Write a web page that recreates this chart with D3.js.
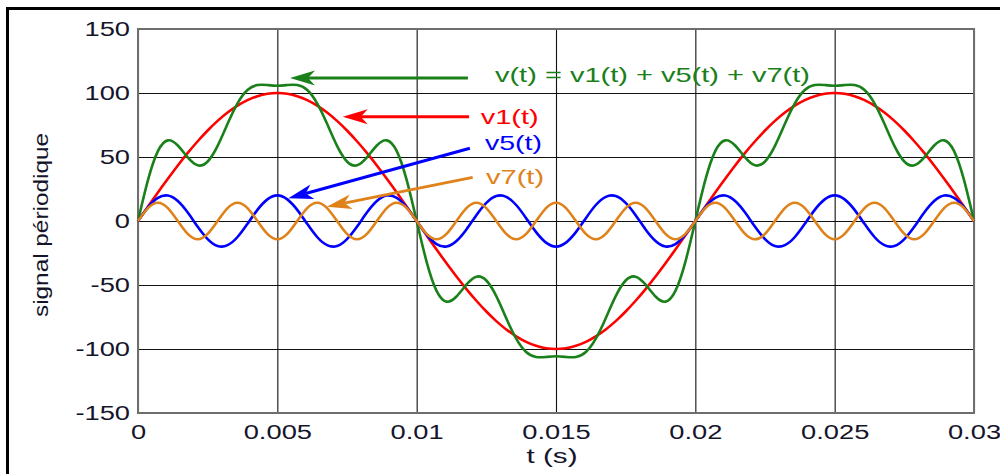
<!DOCTYPE html>
<html>
<head>
<meta charset="utf-8">
<script src="https://cdn.jsdelivr.net/npm/d3@7"></script>
<style>
  html, body { margin: 0; padding: 0; background: #fff; overflow: hidden; }
  svg { display: block; font-family: "Liberation Sans", Arial, sans-serif; }
</style>
</head>
<body>
<svg id="chart" width="1000" height="474"></svg>
<script>
// Samples taken every 0.03/84 s from t = 0 to t = 0.03 s (85 samples)
const tEnd = 0.03;
const sampleCount = 85;

// fundamental, 50 Hz
const v1 = [
  0, 11.2, 22.3, 33.0, 43.4, 53.2, 62.3, 70.7, 78.2, 84.7, 90.1, 94.4, 97.5, 99.4,
  100, 99.4, 97.5, 94.4, 90.1, 84.7, 78.2, 70.7, 62.3, 53.2, 43.4, 33.0, 22.3, 11.2, 0,
  -11.2, -22.3, -33.0, -43.4, -53.2, -62.3, -70.7, -78.2, -84.7, -90.1, -94.4, -97.5, -99.4,
  -100, -99.4, -97.5, -94.4, -90.1, -84.7, -78.2, -70.7, -62.3, -53.2, -43.4, -33.0, -22.3, -11.2, 0,
  11.2, 22.3, 33.0, 43.4, 53.2, 62.3, 70.7, 78.2, 84.7, 90.1, 94.4, 97.5, 99.4,
  100, 99.4, 97.5, 94.4, 90.1, 84.7, 78.2, 70.7, 62.3, 53.2, 43.4, 33.0, 22.3, 11.2, 0
];

// 5th harmonic, 250 Hz
const v5 = [
  0, 10.6, 18.0, 19.9, 15.6, 6.6, -4.5, -14.1, -19.5, -18.9, -12.5, -2.2, 8.7, 16.9,
  20, 16.9, 8.7, -2.2, -12.5, -18.9, -19.5, -14.1, -4.5, 6.6, 15.6, 19.9, 18.0, 10.6, 0,
  -10.6, -18.0, -19.9, -15.6, -6.6, 4.5, 14.1, 19.5, 18.9, 12.5, 2.2, -8.7, -16.9,
  -20, -16.9, -8.7, 2.2, 12.5, 18.9, 19.5, 14.1, 4.5, -6.6, -15.6, -19.9, -18.0, -10.6, 0,
  10.6, 18.0, 19.9, 15.6, 6.6, -4.5, -14.1, -19.5, -18.9, -12.5, -2.2, 8.7, 16.9,
  20, 16.9, 8.7, -2.2, -12.5, -18.9, -19.5, -14.1, -4.5, 6.6, 15.6, 19.9, 18.0, 10.6, 0
];

// 7th harmonic, 350 Hz
const v7 = [
  0, 10.1, 14.3, 10.1, 0, -10.1, -14.3, -10.1,
  0, 10.1, 14.3, 10.1, 0, -10.1, -14.3, -10.1,
  0, 10.1, 14.3, 10.1, 0, -10.1, -14.3, -10.1,
  0, 10.1, 14.3, 10.1, 0, -10.1, -14.3, -10.1,
  0, 10.1, 14.3, 10.1, 0, -10.1, -14.3, -10.1,
  0, 10.1, 14.3, 10.1, 0, -10.1, -14.3, -10.1,
  0, 10.1, 14.3, 10.1, 0, -10.1, -14.3, -10.1,
  0, 10.1, 14.3, 10.1, 0, -10.1, -14.3, -10.1,
  0, 10.1, 14.3, 10.1, 0, -10.1, -14.3, -10.1,
  0, 10.1, 14.3, 10.1, 0, -10.1, -14.3, -10.1,
  0, 10.1, 14.3, 10.1, 0
];

const xTicks = [0, 0.005, 0.01, 0.015, 0.02, 0.025, 0.03];
const xTickLabels = ["0", "0.005", "0.01", "0.015", "0.02", "0.025", "0.03"];
const yTicks = [-150, -100, -50, 0, 50, 100, 150];
const yTickLabels = ["-150", "-100", "-50", "0", "50", "100", "150"];

const colors = { v: "#1a801a", v1: "#ff0000", v5: "#0000ff", v7: "#e0821a" };

// Sum signal v(t) = v1(t) + v5(t) + v7(t)
const times = d3.range(sampleCount).map(k => k * tEnd / (sampleCount - 1));
const vSum = v1.map((d, i) => d + v5[i] + v7[i]);

// Annotations: label text, position in data units, arrow from/to in data units
const notes = [
  { text: "v(t) = v1(t) + v5(t) + v7(t)", key: "v",  at: [0.01281, 108.6], len: 315,
    from: [0.01184, 111.7], to: [0.005455, 111.7] },
  { text: "v1(t)", key: "v1", at: [0.01230, 75.8], len: 58,
    from: [0.01188, 81.5], to: [0.007346, 81.5] },
  { text: "v5(t)", key: "v5", at: [0.01245, 55.1], len: 57,
    from: [0.01191, 56.8], to: [0.005393, 17.7] },
  { text: "v7(t)", key: "v7", at: [0.01249, 28.6], len: 58,
    from: [0.01201, 34.1], to: [0.006772, 11.2] }
];

const svg = d3.select("#chart");
const plot = { left: 138, right: 974, top: 29, bottom: 413 };
const plotW = plot.right - plot.left, plotH = plot.bottom - plot.top;
const hStretch = 1.3;

const x = d3.scaleLinear().domain([0, tEnd]).range([plot.left, plot.right]);
const y = d3.scaleLinear().domain([-150, 150]).range([plot.bottom, plot.top]);

// outer frame
svg.append("rect")
  .attr("x", 7.5).attr("y", 8.5).attr("width", 1010).attr("height", 500)
  .attr("fill", "none").attr("stroke", "#000").attr("stroke-width", 3);

// grid + tick labels
const gx = svg.append("g")
  .attr("transform", `translate(0,${plot.bottom})`)
  .call(d3.axisBottom(x).tickValues(xTicks).tickFormat((d, i) => xTickLabels[i]).tickSize(-plotH));
const gy = svg.append("g")
  .attr("transform", `translate(${plot.left},0)`)
  .call(d3.axisLeft(y).tickValues(yTicks).tickFormat((d, i) => yTickLabels[i]).tickSize(-plotW));

[gx, gy].forEach(g => {
  g.select(".domain").remove();
  g.selectAll(".tick line").attr("stroke", "#111").attr("stroke-width", 1.1);
  g.selectAll(".tick text")
    .attr("fill", "#14142a")
    .attr("font-size", 21)
    .attr("font-family", "Liberation Sans, Arial, sans-serif");
});
gx.selectAll(".tick text").attr("y", 11).attr("transform", `scale(${hStretch},1)`);
gy.selectAll(".tick text").attr("x", -8 / hStretch).attr("transform", `scale(${hStretch},1)`);

// plot border
svg.append("rect")
  .attr("x", plot.left).attr("y", plot.top).attr("width", plotW).attr("height", plotH)
  .attr("fill", "none").attr("stroke", "#6e6e6e").attr("stroke-width", 2);

// curves
const line = d3.line()
  .x((d, i) => x(times[i]))
  .y(d => y(d))
  .curve(d3.curveNatural);

const series = [
  { key: "v1", values: v1 },
  { key: "v",  values: vSum },
  { key: "v5", values: v5 },
  { key: "v7", values: v7 }
];
svg.append("g").selectAll("path").data(series).join("path")
  .attr("d", d => line(d.values))
  .attr("fill", "none")
  .attr("stroke", d => colors[d.key])
  .attr("stroke-width", 2.6)
  .attr("stroke-linejoin", "round");

// annotation arrows and labels
const arrowG = svg.append("g");
notes.forEach(n => {
  const sx = x(n.from[0]), sy = y(n.from[1]);
  const tx = x(n.to[0]), ty = y(n.to[1]);
  const dx = sx - tx, dy = sy - ty, L = Math.hypot(dx, dy);
  const ux = dx / L, uy = dy / L, px = -uy, py = ux;
  const headL = 25, headW = 7.5, notch = 7;
  const bx = tx + ux * headL, by = ty + uy * headL;
  const nx = tx + ux * (headL - notch), ny = ty + uy * (headL - notch);
  arrowG.append("line")
    .attr("x1", sx).attr("y1", sy).attr("x2", nx).attr("y2", ny)
    .attr("stroke", colors[n.key]).attr("stroke-width", 3);
  arrowG.append("path")
    .attr("d", `M${tx},${ty}L${bx + px * headW},${by + py * headW}L${nx},${ny}L${bx - px * headW},${by - py * headW}Z`)
    .attr("fill", colors[n.key]);
  svg.append("text")
    .attr("x", x(n.at[0])).attr("y", y(n.at[1]))
    .attr("font-size", 21)
    .attr("fill", colors[n.key])
    .attr("textLength", n.len)
    .attr("lengthAdjust", "spacingAndGlyphs")
    .text(n.text);
});

// axis titles
svg.append("text")
  .attr("x", 552).attr("y", 463)
  .attr("text-anchor", "middle")
  .attr("font-size", 21)
  .attr("fill", "#14142a")
  .attr("textLength", 51).attr("lengthAdjust", "spacingAndGlyphs")
  .text("t (s)");

svg.append("text")
  .attr("transform", "translate(48,225) rotate(-90)")
  .attr("text-anchor", "middle")
  .attr("font-size", 21)
  .attr("fill", "#14142a")
  .attr("textLength", 184).attr("lengthAdjust", "spacingAndGlyphs")
  .text("signal périodique");
</script>
</body>
</html>
